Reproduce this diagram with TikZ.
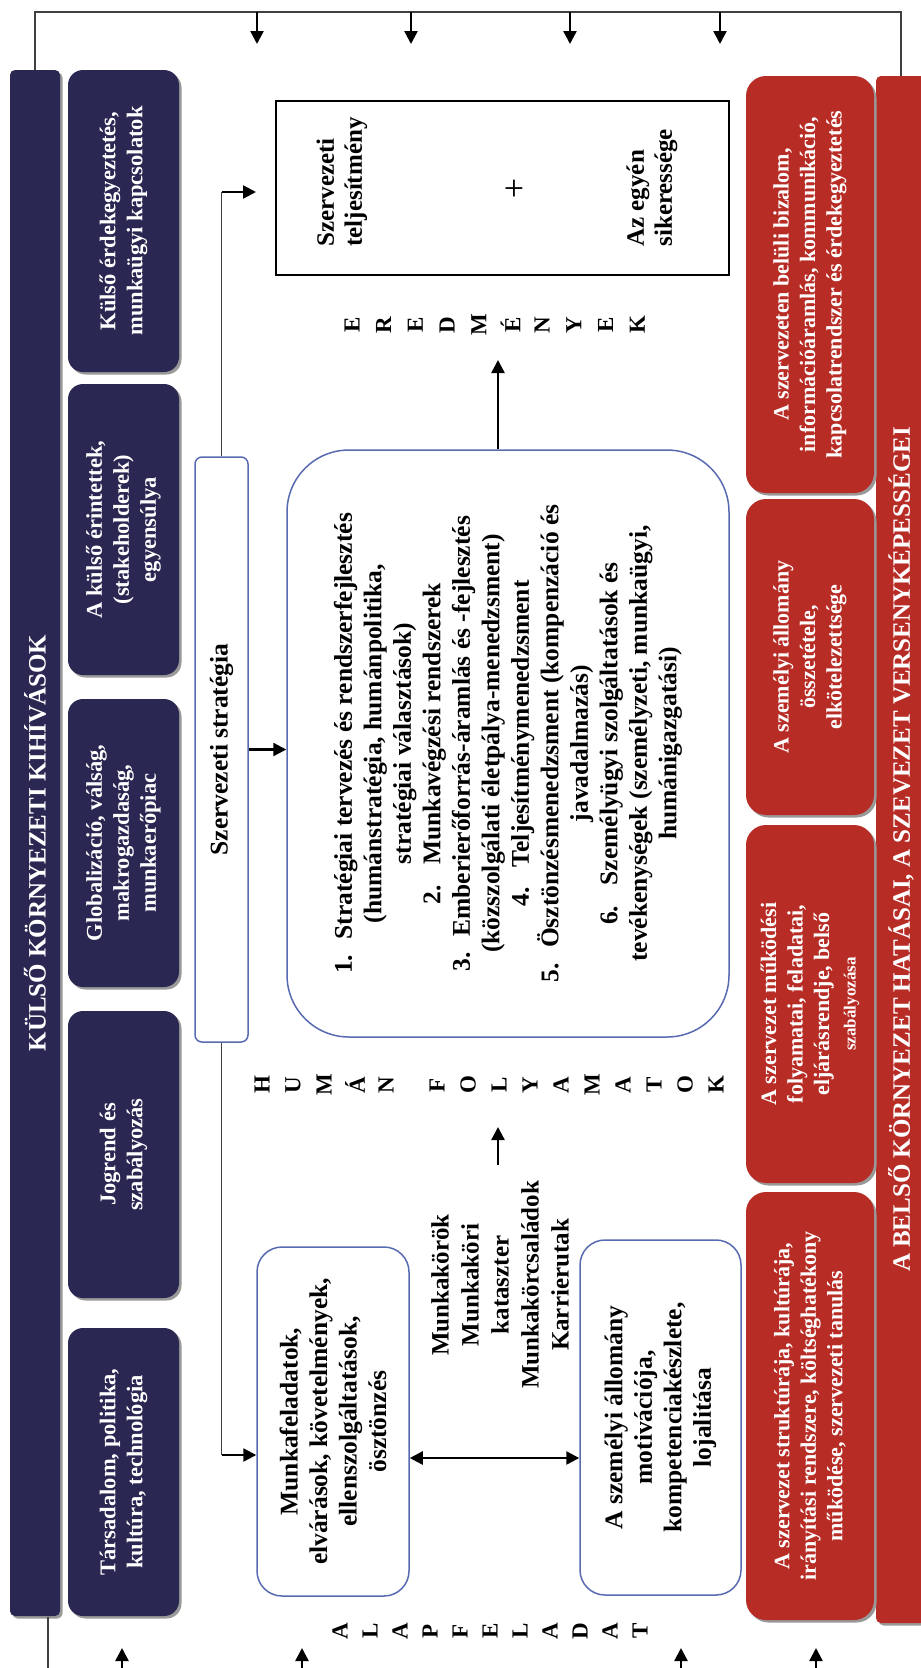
\documentclass[tikz,border=0pt]{standalone}
\usepackage{fontspec}
\setmainfont{Liberation Serif}
\usetikzlibrary{arrows.meta}

\definecolor{navyink}{RGB}{42,39,82}
\definecolor{brickred}{RGB}{184,44,38}
\definecolor{frameblue}{RGB}{88,106,178}

\newcommand{\midfont}{\fontsize{25.5}{29.5}\selectfont\bfseries}
\newcommand{\navyfont}{\fontsize{22.5}{27}\selectfont\bfseries}
\newcommand{\redfont}{\fontsize{22}{26.5}\selectfont\bfseries}
\newcommand{\barfont}{\fontsize{25}{30}\selectfont\bfseries}
\newcommand{\letterfont}{\fontsize{23}{23}\selectfont\bfseries}

\tikzset{every picture/.style={line width=1pt}}
\tikzset{
  shadowed/.style={preaction={fill=black!40, transform canvas={shift={(2.5pt,-2.5pt)}}}},
  navybar/.style={shadowed, fill=navyink, text=white, rotate=90, rounded corners=5pt, inner sep=0pt, font=\barfont},
  redbar/.style={shadowed, fill=brickred, text=white, rotate=90, rounded corners=5pt, inner sep=0pt, font=\barfont},
  navybox/.style={shadowed, fill=navyink, text=white, rotate=90, rounded corners=15pt, align=center, inner sep=0pt, minimum height=111pt, font=\navyfont},
  redbox/.style={shadowed, fill=brickred, text=white, rotate=90, rounded corners=20pt, align=center, inner sep=0pt, minimum height=128pt, font=\redfont},
  hrbox/.style={draw=frameblue, line width=1.5pt, fill=white, rotate=90, align=center, inner sep=0pt, font=\midfont},
  restext/.style={rotate=90, align=left, inner sep=0pt, font=\fontsize{25}{28}\selectfont\bfseries},
  letter/.style={rotate=90, inner sep=0pt, font=\letterfont},
  link/.style={line width=1.3pt, draw=black!75},
  arr/.style={line width=2.4pt, -{Triangle[length=13pt,width=13pt]}},
  dblarr/.style={line width=2.4pt, {Triangle[length=13pt,width=13pt]}-{Triangle[length=13pt,width=13pt]}}
}

\begin{document}
\begin{tikzpicture}[x=1pt,y=1pt,yscale=-1,xscale=1]
	\useasboundingbox (0,0) rectangle (921,1668);
	\fill[white] (0,0) rectangle (921,1668);

	%Shape: Rounded Rect [outer bars]
	\node[navybar, minimum width=1546pt, minimum height=50pt] (ext) at (35,843) {KÜLSŐ KÖRNYEZETI KIHÍVÁSOK};
	\node[redbar, minimum width=1547pt, minimum height=50pt] (intb) at (901,849.5) {A BELSŐ KÖRNYEZET HATÁSAI, A SZEVEZET VERSENYKÉPESSÉGEI};

	%Shape: Rounded Rect [external challenges]
	\node[navybox, minimum width=302pt] (extA) at (123.5,221) {Külső érdekegyeztetés,\\munkaügyi kapcsolatok};
	\node[navybox, minimum width=291pt] (extB) at (123.5,529.5) {A külső érintettek,\\(stakeholderek)\\egyensúlya};
	\node[navybox, minimum width=288pt] (extC) at (123.5,843) {Globalizáció, válság,\\makrogazdaság,\\munkaerőpiac};
	\node[navybox, minimum width=287pt] (extD) at (123.5,1154.5) {Jogrend és\\szabályozás};
	\node[navybox, minimum width=288pt] (extE) at (123.5,1472) {Társadalom, politika,\\kultúra, technológia};

	%Shape: Rounded Rect [internal effects]
	\node[redbox, minimum width=417pt] (intD) at (810,284.5) {A szervezeten belüli bizalom,\\információáramlás, kommunikáció,\\kapcsolatrendszer és érdekegyeztetés};
	\node[redbox, minimum width=316pt] (intC) at (810,657) {A személyi állomány\\összetétele,\\elkötelezettsége};
	\node[redbox, minimum width=358pt] (intB) at (810,1004) {A szervezet működési\\folyamatai, feladatai,\\eljárásrendje, belső\\{\fontsize{17}{20}\selectfont szabályozása}};
	\node[redbox, minimum width=428pt] (intA) at (810,1406) {A szervezet struktúrája, kultúrája,\\irányítási rendszere, költséghatékony\\működése, szervezeti tanulás};

	%Shape: Rounded Rect [strategy and HR processes]
	\node[hrbox, rounded corners=7pt, minimum width=585pt, minimum height=53pt] (strat) at (221.5,749.5) {Szervezeti stratégia};
	\node[hrbox, rounded corners=62pt, minimum width=587pt, minimum height=442pt] (hrproc) at (508,743.5) {1.\hspace{0.6em}Stratégiai tervezés és rendszerfejlesztés\\(humánstratégia, humánpolitika,\\stratégiai választások)\\2.\hspace{0.8em}Munkavégzési rendszerek\\3.\hspace{0.6em}Emberierőforrás-áramlás és -fejlesztés\\(közszolgálati életpálya-menedzsment)\\4.\hspace{0.8em}Teljesítménymenedzsment\\5.\hspace{0.6em}Ösztönzésmenedzsment (kompenzáció és\\javadalmazás)\\6.\hspace{0.8em}Személyügyi szolgáltatások és\\tevékenységek (személyzeti, munkaügyi,\\humánigazgatási)};

	%Shape: Rounded Rect [basic tasks]
	\node[hrbox, rounded corners=25pt, minimum width=349pt, minimum height=152pt] (tasks) at (333,1421.5) {Munkafeladatok,\\elvárások, követelmények,\\ellenszolgáltatások,\\ösztönzés};
	\node[hrbox, rounded corners=25pt, minimum width=355pt, minimum height=161pt] (staff) at (660.5,1417.5) {A személyi állomány\\motivációja,\\kompetenciakészlete,\\lojalitása};

	%Shape: Rectangle [results]
	\node[draw=black, line width=2.5pt, fill=white, minimum width=453pt, minimum height=174pt] (res) at (502.5,188) {};
	\node[restext, anchor=west] (resorg) at (342,247) {Szervezeti\\teljesítmény};
	\node[font=\fontsize{36}{36}\selectfont] (plus) at (514,190) {+};
	\node[restext, anchor=west] (resind) at (652,247) {Az egyén\\sikeressége};

	% Text Node
	\node[rotate=90, align=center, inner sep=0pt, font=\fontsize{25}{30}\selectfont\bfseries] (jobs) at (500,1285) {Munkakörök\\Munkaköri\\kataszter\\Munkakörcsaládok\\Karrierutak};

	% Text Node [spelled labels]
	\foreach \lett [count=\i] in {E,R,E,D,M,É,N,Y,E,K}
		\node[letter] (ered\i) at ({352+31.7*(\i-1)},325) {\lett};
	\foreach \lett [count=\i] in {H,U,M,Á,N}
		\node[letter] (hum\i) at ({262+31*(\i-1)},1085) {\lett};
	\foreach \lett [count=\i] in {F,O,L,Y,A,M,A,T,O,K}
		\node[letter] (proc\i) at ({437+31*(\i-1)},1085) {\lett};
	\foreach \lett [count=\i] in {A,L,A,P,F,E,L,A,D,A,T}
		\node[letter] (alap\i) at ({340+30*(\i-1)},1631) {\lett};

	%Straight Lines [frame]
	\coordinate (topy) at (0,12);
	\coordinate (boty) at (0,1680);
	\coordinate (bl) at (48,1680);
	\draw[link] (ext.east) -- (ext.east |- topy) -- (intb.east |- topy) -- (intb.east);
	\draw[link] (bl |- ext.west) -- (bl);
	\foreach \x [count=\i] in {257,411,570,720} {
		\coordinate (down\i) at (\x,44);
		\draw[arr] (down\i |- topy) -- (down\i);
	}
	\foreach \x [count=\i] in {122,302,681,816} {
		\coordinate (up\i) at (\x,1648);
		\draw[arr] (up\i |- boty) -- (up\i);
	}

	%Straight Lines [strategy links]
	\coordinate (resin) at (221.5,192);
	\coordinate (restip) at (256,192);
	\coordinate (taskin) at (221.5,1455);
	\draw[link] (strat.east) -- (resin);
	\draw[link] (strat.west) -- (taskin);
	\draw[arr] (resin) -- (restip);
	\draw[arr] (taskin) -- (tasks.north |- taskin);
	\draw[arr] (strat.south) -- (strat.south -| hrproc.north);

	%Straight Lines [results and processes]
	\coordinate (eredtip) at (498,360);
	\coordinate (humtip) at (498,1127);
	\coordinate (dbl) at (0,1458);
	\draw[arr] (eredtip |- hrproc.east) -- (eredtip);
	\draw[arr, shorten <=16pt] (humtip |- jobs.east) -- (humtip);
	\draw[dblarr] (tasks.south |- dbl) -- (staff.north |- dbl);

\end{tikzpicture}
\end{document}
